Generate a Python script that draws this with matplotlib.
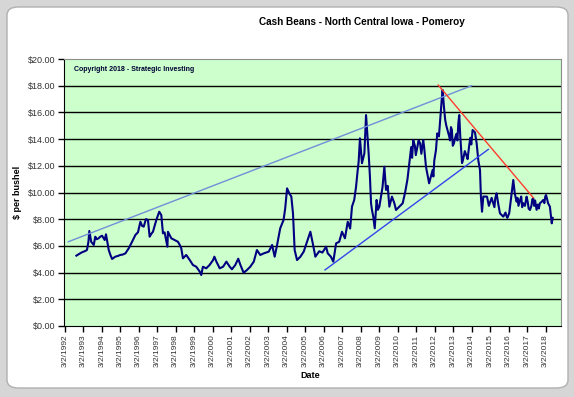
import matplotlib.pyplot as plt
from matplotlib.patches import FancyBboxPatch

plt.rcParams['font.family'] = ['Liberation Sans', 'DejaVu Sans']

# decimal years (3/2/YYYY tick = YYYY + 0.167) and cash price in $/bushel
years = [1992.80, 1992.95, 1993.10, 1993.25, 1993.37, 1993.45, 1993.50, 1993.60, 1993.74, 1993.82,
         1993.90, 1994.00, 1994.10, 1994.19, 1994.33, 1994.40, 1994.47, 1994.55, 1994.64, 1994.73,
         1994.90, 1995.05, 1995.17, 1995.30, 1995.45, 1995.63, 1995.81, 1995.99, 1996.13, 1996.26,
         1996.35, 1996.44, 1996.56, 1996.67, 1996.76, 1996.85, 1996.94, 1997.12, 1997.28, 1997.39,
         1997.48, 1997.57, 1997.72, 1997.75, 1997.93, 1998.11, 1998.29, 1998.39, 1998.47, 1998.56,
         1998.74, 1998.93, 1999.10, 1999.28, 1999.47, 1999.55, 1999.64, 1999.82, 2000.00, 2000.19,
         2000.26, 2000.37, 2000.55, 2000.73, 2000.91, 2001.09, 2001.21, 2001.39, 2001.55, 2001.66,
         2001.84, 2002.02, 2002.20, 2002.39, 2002.56, 2002.74, 2002.93, 2003.20, 2003.38, 2003.52,
         2003.65, 2003.82, 2004.00, 2004.09, 2004.19, 2004.31, 2004.42, 2004.51, 2004.60, 2004.73,
         2004.91, 2005.09, 2005.27, 2005.45, 2005.58, 2005.72, 2005.93, 2006.10, 2006.30, 2006.39,
         2006.56, 2006.69, 2006.84, 2007.01, 2007.16, 2007.32, 2007.47, 2007.60, 2007.70, 2007.82,
         2007.92, 2008.00, 2008.06, 2008.13, 2008.24, 2008.37, 2008.46, 2008.51, 2008.60, 2008.67,
         2008.73, 2008.78, 2008.85, 2008.93, 2009.03, 2009.10, 2009.18, 2009.27, 2009.35, 2009.45,
         2009.54, 2009.63, 2009.72, 2009.86, 2009.99, 2010.08, 2010.26, 2010.44, 2010.58, 2010.70,
         2010.84, 2010.90, 2010.95, 2011.01, 2011.10, 2011.15, 2011.20, 2011.30, 2011.38, 2011.45,
         2011.55, 2011.60, 2011.70, 2011.87, 2012.06, 2012.10, 2012.15, 2012.24, 2012.31, 2012.40,
         2012.55, 2012.60, 2012.67, 2012.74, 2012.80, 2012.96, 2013.00, 2013.05, 2013.10, 2013.15,
         2013.21, 2013.30, 2013.35, 2013.40, 2013.45, 2013.50, 2013.55, 2013.60, 2013.65, 2013.70,
         2013.80, 2013.88, 2013.95, 2014.04, 2014.10, 2014.15, 2014.22, 2014.35, 2014.44, 2014.53,
         2014.62, 2014.67, 2014.73, 2014.80, 2015.00, 2015.10, 2015.20, 2015.25, 2015.34, 2015.40,
         2015.45, 2015.52, 2015.60, 2015.70, 2015.88, 2016.00, 2016.06, 2016.10, 2016.20, 2016.33,
         2016.42, 2016.50, 2016.60, 2016.65, 2016.70, 2016.78, 2016.85, 2016.90, 2016.96, 2017.05,
         2017.14, 2017.20, 2017.25, 2017.32, 2017.40, 2017.45, 2017.50, 2017.55, 2017.60, 2017.68,
         2017.75, 2017.80, 2017.86, 2017.95, 2018.04, 2018.10, 2018.15, 2018.19, 2018.25, 2018.30,
         2018.40, 2018.46, 2018.50, 2018.55]
prices = [5.27, 5.40, 5.52, 5.60, 5.69, 6.30, 7.12, 6.31, 6.07, 6.69,
          6.50, 6.57, 6.70, 6.76, 6.44, 6.87, 6.31, 5.69, 5.32, 5.02,
          5.19, 5.25, 5.32, 5.35, 5.44, 5.82, 6.31, 6.82, 7.02, 7.81,
          7.50, 7.44, 8.01, 7.94, 6.69, 6.90, 7.06, 7.94, 8.56, 8.31,
          6.94, 7.01, 5.94, 7.06, 6.57, 6.44, 6.31, 6.07, 5.82, 5.07,
          5.32, 4.94, 4.57, 4.44, 4.07, 3.82, 4.44, 4.32, 4.57, 4.94,
          5.19, 4.82, 4.32, 4.44, 4.82, 4.44, 4.25, 4.57, 5.04, 4.60,
          3.99, 4.19, 4.44, 4.82, 5.69, 5.32, 5.44, 5.57, 6.07, 5.19,
          6.07, 7.32, 7.94, 8.82, 10.31, 9.94, 9.69, 8.44, 5.69, 4.94,
          5.19, 5.57, 6.31, 7.06, 6.19, 5.19, 5.60, 5.50, 5.94, 5.44,
          5.19, 4.82, 6.19, 6.31, 7.06, 6.57, 7.81, 7.30, 8.94, 9.44,
          10.43, 11.56, 12.31, 14.06, 12.19, 12.94, 15.80, 14.81, 12.94, 11.19,
          9.19, 8.69, 8.19, 7.32, 9.44, 8.70, 8.94, 9.70, 10.40, 11.93,
          10.19, 10.50, 8.94, 9.69, 9.20, 8.69, 8.94, 9.19, 10.06, 11.00,
          12.68, 13.40, 12.60, 13.93, 13.50, 12.80, 13.18, 13.90, 13.70, 12.90,
          13.93, 13.40, 11.93, 10.69, 11.69, 11.20, 12.40, 13.18, 14.43, 14.20,
          16.93, 17.68, 16.43, 15.43, 15.00, 14.18, 13.90, 14.90, 14.70, 13.50,
          13.68, 14.20, 14.40, 13.90, 15.20, 15.80, 14.30, 13.20, 12.20, 12.43,
          13.10, 12.80, 12.50, 13.56, 14.10, 13.60, 14.68, 14.50, 13.68, 12.40,
          11.69, 9.69, 8.56, 9.70, 9.69, 9.00, 9.40, 9.60, 9.19, 8.90,
          9.60, 9.94, 9.20, 8.44, 8.19, 8.50, 8.20, 8.10, 8.44, 9.94,
          10.94, 9.94, 9.31, 9.60, 9.00, 9.40, 9.70, 8.90, 9.20, 9.00,
          9.69, 9.30, 8.80, 8.69, 9.00, 9.50, 9.56, 9.00, 9.40, 8.70,
          9.10, 8.80, 9.20, 9.30, 9.44, 9.20, 9.70, 9.81, 9.50, 9.20,
          8.94, 8.19, 7.69, 8.10]

# hand-drawn trend lines: (x0, y0, x1, y1)
upper_channel = (1992.36, 6.31, 2014.17, 18.0)
lower_channel = (2006.24, 4.20, 2015.07, 13.23)
down_trend = (2012.36, 18.05, 2017.50, 9.61)

tick_years = list(range(1992, 2019))
tick_labels = ['3/2/%d' % y for y in tick_years]
y_ticks = [0, 2, 4, 6, 8, 10, 12, 14, 16, 18, 20]

fig = plt.figure(figsize=(5.74, 3.97), dpi=100)
fig.patch.set_facecolor('#d6d6d6')
frame = FancyBboxPatch((7 / 574, 9 / 397), 561 / 574, 381 / 397,
                       boxstyle='round,pad=0,rounding_size=0.02',
                       transform=fig.transFigure, facecolor='white',
                       edgecolor='#b0b0b0', linewidth=1.0, zorder=-5)
fig.patches.append(frame)

ax = fig.add_axes([64 / 574, 1 - 326 / 397, (561 - 64) / 574, (326 - 59) / 397])
ax.set_zorder(2)
ax.set_facecolor('#ccffcc')

for v in y_ticks[1:-1]:
    ax.axhline(v, color='black', linewidth=1.0, zorder=1)

ax.plot(years, prices, color='#000080', linewidth=1.5, zorder=3)
for (x0, y0, x1, y1), c in [(upper_channel, '#6f8fd8'),
                            (lower_channel, '#3344ee'),
                            (down_trend, '#ff3b2f')]:
    ax.plot([x0, x1], [y0, y1], color=c, linewidth=1.0, zorder=4)

ax.set_xlim(1992.13, 2019.0)
ax.set_ylim(0, 20)
ax.set_xticks([y + 0.167 for y in tick_years])
ax.set_xticklabels(tick_labels, rotation=90, fontsize=6, color='#333333')
ax.set_yticks(y_ticks)
ax.set_yticklabels(['$%.2f' % v for v in y_ticks], fontsize=6.5, color='#333333')
ax.tick_params(axis='both', direction='out', length=4, width=1, pad=2)

for s in ['top', 'right']:
    ax.spines[s].set_color('#8c8c8c')
for s in ['left', 'bottom']:
    ax.spines[s].set_color('black')

ax.text(0.02, 0.975, 'Copyright 2018 - Strategic Investing', transform=ax.transAxes,
        fontsize=5, fontweight='bold', color='#000033', va='top', ha='left')

fig.text(362 / 574, 1 - 22 / 397, 'Cash Beans - North Central Iowa - Pomeroy',
         fontsize=7.2, fontweight='bold', ha='center', va='center')
fig.text(18 / 574, 1 - 192 / 397, '$ per bushel', rotation=90, fontsize=6.5,
         fontweight='bold', ha='center', va='center')
fig.text(310 / 574, 1 - 375 / 397, 'Date', fontsize=6.5, fontweight='bold',
         ha='center', va='center')

fig.savefig('out.png', dpi=100)
